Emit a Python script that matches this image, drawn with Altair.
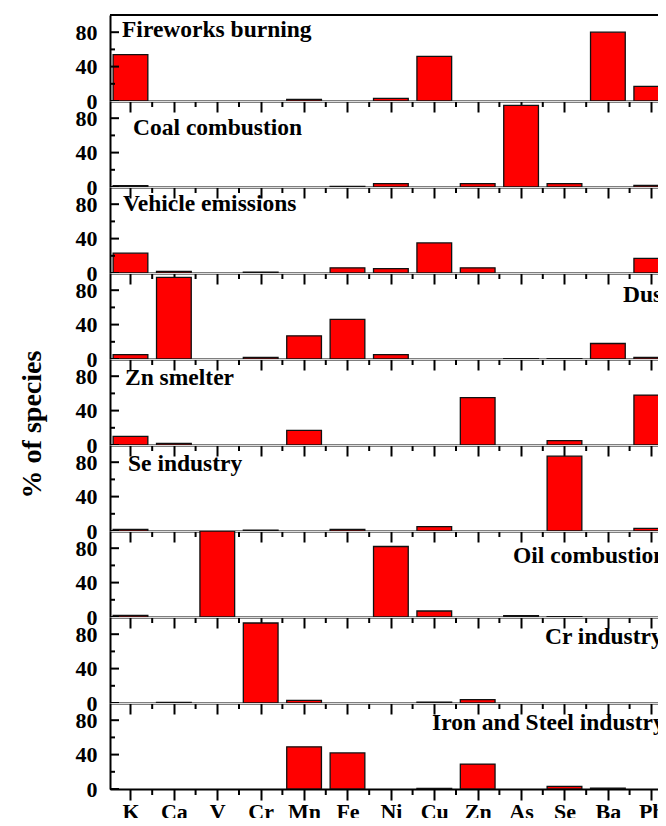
import altair as alt
import pandas as pd

ELEMENTS = ["K", "Ca", "V", "Cr", "Mn", "Fe", "Ni", "Cu", "Zn", "As", "Se", "Ba", "Pb"]
SOURCES = ["Fireworks burning", "Coal combustion", "Vehicle emissions", "Dust",
           "Zn smelter", "Se industry", "Oil combustion", "Cr industry",
           "Iron and Steel industry"]

fireworks   = [54, 0, 0, 0, 2, 0, 3, 52, 0, 0, 0, 80, 17]
coal        = [1.5, 0, 0, 0, 0, 0.8, 4, 0, 4, 95, 4, 0, 2]
vehicle     = [23, 2, 0, 1, 0, 6, 5, 35, 6, 0, 0, 0, 17]
dust        = [5, 95, 0, 2, 27, 46, 5, 0, 0, 0.5, 0.5, 18, 2]
zn_smelter  = [10, 2, 0, 0, 17, 0, 0, 0, 55, 0, 5, 0, 58]
se_industry = [2, 0, 0, 1, 0, 2, 0, 5, 0, 0, 87, 0, 3]
oil         = [2, 0, 100, 0, 0, 0, 82, 7, 0, 1.5, 0.5, 0, 0]
cr_industry = [0, 0.8, 0, 93, 3, 0, 0, 1, 4, 0, 0, 0, 0]
iron_steel  = [0, 0, 0, 0, 49, 42, 0, 0.8, 29, 0, 3, 1, 0]
SERIES = [fireworks, coal, vehicle, dust, zn_smelter, se_industry, oil, cr_industry, iron_steel]

Y_MAJOR = [0, 40, 80]
Y_MINOR = [20, 60]

# layout (pixels, relative to each panel's plot area)
LABEL_X = [12, 23, 13, 513, 15, 18, 403, 435, 322]
LABEL_Y = [22, 34, 24, 29, 26, 26, 32, 27, 27]

FONT = "Liberation Serif"
X_MIN, X_MAX = 0.528, 13.339
W = 556
H = 86

rows = []
for src, vals in zip(SOURCES, SERIES):
    for i, (el, v) in enumerate(zip(ELEMENTS, vals)):
        rows.append({"source": src, "element": el, "pos": i + 1, "value": v})
df = pd.DataFrame(rows)
labels_df = pd.DataFrame({"source": SOURCES, "label": SOURCES})

label_expr = "[" + ",".join("'%s'" % e for e in ELEMENTS) + "][datum.value - 1]"

xscale = alt.Scale(domain=[X_MIN, X_MAX], nice=False, zero=False)
yscale = alt.Scale(domain=[0, 100], nice=False)


def panel(i, src):
    is_last = i == len(SOURCES) - 1
    xaxis = alt.Axis(values=list(range(1, len(ELEMENTS) + 1)), labels=is_last,
                     labelExpr=label_expr, tickSize=11, tickWidth=2, tickColor="black",
                     domainColor="black", domainWidth=2, grid=False, title=None,
                     labelFont=FONT, labelFontSize=22, labelFontWeight="bold",
                     labelColor="black", labelPadding=1, labelFlush=False,
                     labelOverlap=False)
    yargs = dict(values=Y_MAJOR, ticks=False, tickSize=0, labelPadding=13,
                 domainColor="black", domainWidth=2, grid=False,
                 labelFont=FONT, labelFontSize=22, labelFontWeight="bold",
                 labelColor="black", labelFlush=False, labelOverlap=False)
    if i == 4:
        yaxis = alt.Axis(title="% of species", titleFont=FONT, titleFontSize=28,
                         titleFontWeight="bold", titleColor="black", titleX=-78,
                         titleY=65, titleBaseline="middle", titleAngle=270, **yargs)
    else:
        yaxis = alt.Axis(title=None, **yargs)

    bars = (alt.Chart(df)
            .transform_filter(alt.datum.source == src)
            .transform_filter(alt.datum.value > 0)
            .transform_calculate(x0="datum.pos - 0.4", x1="datum.pos + 0.4")
            .mark_bar(color="#FF0000", stroke="#111111", strokeWidth=1.3, clip=True)
            .encode(x=alt.X("x0:Q", scale=xscale, axis=xaxis), x2="x1:Q",
                    y=alt.Y("value:Q", scale=yscale, axis=yaxis),
                    y2=alt.datum(0)))

    ymaj = (alt.Chart(pd.DataFrame({"value": Y_MAJOR}))
            .mark_rule(color="black", strokeWidth=2)
            .encode(y=alt.Y("value:Q", scale=yscale, axis=yaxis),
                    x=alt.value(0), x2=alt.value(9)))
    ymin = (alt.Chart(pd.DataFrame({"value": Y_MINOR}))
            .mark_rule(color="black", strokeWidth=2)
            .encode(y=alt.Y("value:Q", scale=yscale, axis=yaxis),
                    x=alt.value(0), x2=alt.value(5)))
    xmin = (alt.Chart(pd.DataFrame({"pos": list(range(1, len(ELEMENTS)))}))
            .transform_calculate(x0="datum.pos + 0.5")
            .mark_rule(color="black", strokeWidth=2)
            .encode(x=alt.X("x0:Q", scale=xscale, axis=xaxis),
                    y=alt.value(H), y2=alt.value(H + 6)))
    text = (alt.Chart(labels_df)
            .transform_filter(alt.datum.source == src)
            .mark_text(font=FONT, fontSize=23.5, fontWeight="bold", align="left",
                       baseline="alphabetic", color="black", clip=True)
            .encode(text="label:N", x=alt.value(LABEL_X[i]), y=alt.value(LABEL_Y[i])))
    layers = [bars, ymaj, ymin, xmin, text]
    if i == 0:
        border = (alt.Chart(pd.DataFrame({"a": [0]}))
                  .mark_rule(color="black", strokeWidth=2)
                  .encode(x=alt.value(0), x2=alt.value(W), y=alt.value(0)))
        layers.append(border)
    return alt.layer(*layers).properties(width=W, height=H)


# fixed canvas sized to fit the 666 x 826 window with the 8px page margin
chart = (alt.vconcat(*[panel(i, s) for i, s in enumerate(SOURCES)], spacing=0, bounds="flush")
         .properties(autosize=alt.AutoSizeParams(type="none"),
                     padding={"left": 102, "top": 7, "right": -8, "bottom": 803})
         .configure_view(stroke=None)
         .configure(background="white"))

chart.save("out.html", embed_options={"renderer": "svg", "actions": False})
